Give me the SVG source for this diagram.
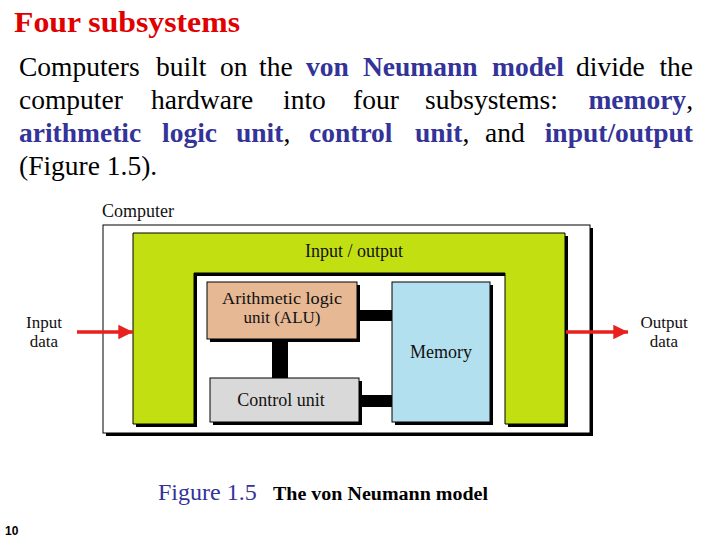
<svg xmlns="http://www.w3.org/2000/svg" width="720" height="540" viewBox="0 0 720 540">
<defs>
<style>
.ser{font-family:"Liberation Serif","Times New Roman",serif;}
.para{font-family:"Liberation Serif","Times New Roman",serif;font-size:27.5px;fill:#000;}
.b{font-weight:bold;fill:#333399;}
.lbl{font-family:"Liberation Serif","Times New Roman",serif;font-size:18px;fill:#111;text-anchor:middle;}
.lbl2{font-family:"Liberation Serif","Times New Roman",serif;font-size:17px;fill:#111;text-anchor:middle;}
.shadow{fill:#000;}
.box{stroke:#000;stroke-width:1;}
.bus{fill:#000;}
.arrow{stroke:#E8201E;stroke-width:3.5;fill:none;}
</style>
<marker id="ah" viewBox="0 0 10 10" refX="10" refY="5" markerWidth="4.2" markerHeight="4.8" markerUnits="strokeWidth" orient="auto">
<path d="M0,0 L10,5 L0,10 Z" fill="#E8201E"/>
</marker>
</defs>
<rect width="720" height="540" fill="#fff"/>
<text x="14" y="32" class="ser" font-size="30" font-weight="bold" fill="#E00000" textLength="226" lengthAdjust="spacingAndGlyphs">Four subsystems</text>
<g class="para">
<text y="76"><tspan x="19">Computers</tspan><tspan x="156">built</tspan><tspan x="220">on</tspan><tspan x="259">the</tspan><tspan x="306" class="b">von</tspan><tspan x="363" class="b">Neumann</tspan><tspan x="492" class="b">model</tspan><tspan x="576">divide</tspan></text>
<text y="76" x="693" text-anchor="end">the</text>
<text y="109"><tspan x="19">computer</tspan><tspan x="151">hardware</tspan><tspan x="283">into</tspan><tspan x="353">four</tspan><tspan x="425">subsystems:</tspan></text>
<text y="109" x="693" text-anchor="end"><tspan class="b">memory</tspan>,</text>
<text y="142"><tspan x="19" class="b">arithmetic</tspan><tspan x="162" class="b">logic</tspan><tspan x="236" class="b">unit</tspan><tspan>,</tspan><tspan x="309" class="b">control</tspan><tspan x="415" class="b">unit</tspan><tspan>,</tspan><tspan x="485">and</tspan></text>
<text y="142" x="693" text-anchor="end" class="b">input/output</text>
<text y="175" x="19">(Figure 1.5).</text>
</g>
<text x="102" y="217" class="ser" font-size="18" fill="#111">Computer</text>
<g id="computer">
<rect x="106" y="228" width="487" height="208" class="shadow"/>
<rect x="103" y="225" width="487" height="208" fill="#fff" class="box"/>
</g>
<g id="io">
<path d="M136,236 H568 V427 H508 V276 H197 V427 H136 Z" class="shadow"/>
<path d="M133,233 H565 V424 H505 V273 H194 V424 H133 Z" fill="#C2E011" class="box"/>
<text x="354" y="257" class="lbl">Input / output</text>
</g>
<g id="connectors">
<rect x="355" y="310" width="38" height="11" class="bus"/>
<rect x="272" y="337" width="16" height="43" class="bus"/>
<rect x="357" y="395" width="36" height="12" class="bus"/>
<line x1="77" y1="332" x2="133" y2="332" class="arrow" marker-end="url(#ah)"/>
<line x1="566" y1="332" x2="628" y2="332" class="arrow" marker-end="url(#ah)"/>
</g>
<g id="alu">
<rect x="210" y="285" width="150" height="57" class="shadow"/>
<rect x="207" y="282" width="150" height="57" fill="#E6B894" class="box"/>
<text x="282" y="304" class="lbl2" textLength="120" lengthAdjust="spacingAndGlyphs">Arithmetic logic</text>
<text x="282" y="323" class="lbl2">unit (ALU)</text>
</g>
<g id="control">
<rect x="213" y="381" width="149" height="44" class="shadow"/>
<rect x="210" y="378" width="149" height="44" fill="#D9D9D9" class="box"/>
<text x="281" y="406" class="lbl">Control unit</text>
</g>
<g id="memory">
<rect x="395" y="285" width="98" height="140" class="shadow"/>
<rect x="392" y="282" width="98" height="140" fill="#B3E0EE" class="box"/>
<text x="441" y="358" class="lbl">Memory</text>
</g>
<g id="input">
<text x="44" y="328" class="lbl2">Input</text>
<text x="44" y="347" class="lbl2">data</text>
</g>
<g id="output">
<text x="664" y="328" class="lbl2">Output</text>
<text x="664" y="347" class="lbl2">data</text>
</g>
<text x="158" y="500" class="ser" font-size="24" fill="#333399">Figure 1.5</text>
<text x="273" y="500" class="ser" font-size="18" font-weight="bold" fill="#000" textLength="215" lengthAdjust="spacingAndGlyphs">The von Neumann model</text>
<text x="5" y="535" font-family="Liberation Sans, Arial, sans-serif" font-size="12" font-weight="bold" fill="#000">10</text>
</svg>
